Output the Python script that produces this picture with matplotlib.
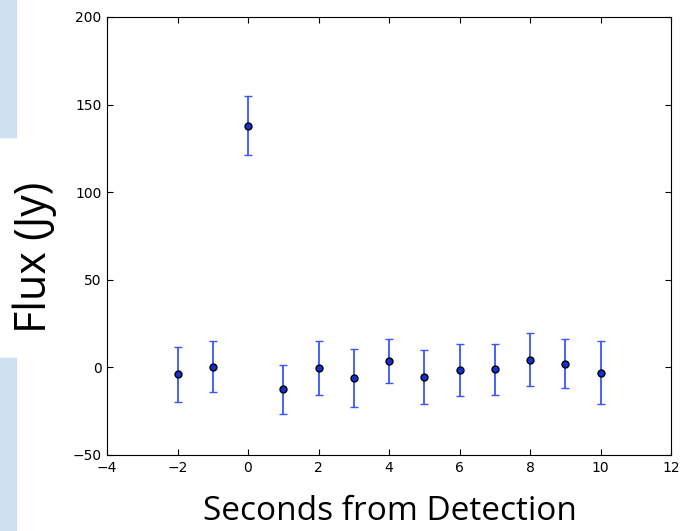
import matplotlib
matplotlib.use("Agg")
import matplotlib.pyplot as plt
from matplotlib.patches import Rectangle

# Data
seconds = [-2, -1, 0, 1, 2, 3, 4, 5, 6, 7, 8, 9, 10]
flux = [-4, 0.5, 138, -12.5, -0.5, -6, 3.5, -5.5, -1.5, -1, 4.5, 2, -3]
flux_err = [15.5, 14.5, 17, 14, 15.5, 16.5, 12.5, 15.5, 15, 14.5, 15, 14, 18]

x_ticks = [-4, -2, 0, 2, 4, 6, 8, 10, 12]
y_ticks = [-50, 0, 50, 100, 150, 200]

# Create figure
fig = plt.figure(figsize=(6.87, 5.31), dpi=100)
ax = fig.add_axes([107 / 687, 1 - 455 / 531, 564 / 687, 438 / 531])

# Light blue slide decorations on the left edge
fig.patches.append(Rectangle((0, 1 - 137 / 531), 16 / 687, 137 / 531,
                             transform=fig.transFigure, color="#cfe0f2", zorder=0))
fig.patches.append(Rectangle((0, 0), 16 / 687, 173 / 531,
                             transform=fig.transFigure, color="#cfe0f2", zorder=0))

# Error bars
ax.errorbar(seconds, flux, yerr=flux_err, fmt="o", color="#2b45f5", ecolor="#3a55ff",
            mfc="#1030d8", mec="black", mew=1.0, ms=5, elinewidth=1.3, capsize=3, capthick=1.3)

ax.set_xlim(-4, 12)
ax.set_ylim(-50, 200)
ax.set_xticks(x_ticks)
ax.set_yticks(y_ticks)
ax.set_xticklabels([str(t).replace("-", "\u2212") for t in x_ticks])
ax.set_yticklabels([str(t).replace("-", "\u2212") for t in y_ticks])
ax.tick_params(direction="in", top=True, right=True, length=4, labelsize=10, pad=4)

# Axis labels in large slide font
fig.text(390 / 687, 1 - 511 / 531, "Seconds from Detection", ha="center", va="center",
         fontsize=24, family=["Open Sans", "DejaVu Sans"])
fig.text(35 / 687, 1 - 257 / 531, "Flux (Jy)", ha="center", va="center", rotation=90,
         fontsize=31, family=["Open Sans", "DejaVu Sans"])

fig.savefig("out.png", dpi=100)
